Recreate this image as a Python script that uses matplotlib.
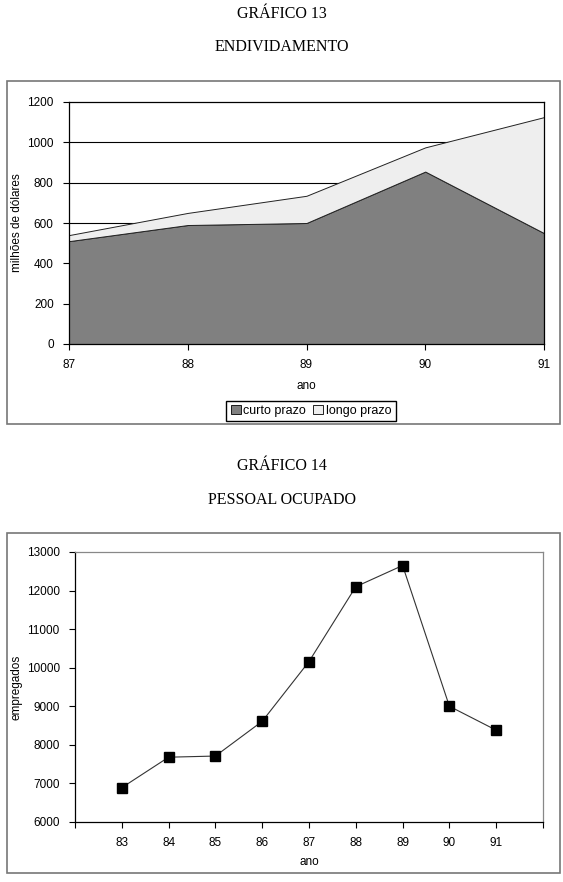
import numpy as np
import matplotlib
matplotlib.use("Agg")
import matplotlib.pyplot as plt
from matplotlib.patches import Rectangle, Patch

# ── Data ──────────────────────────────────────────────────────────────────────
anos_div   = [87, 88, 89, 90, 91]
curto      = [510, 590, 600, 855, 550]
longo      = [30, 60, 135, 120, 575]

anos_pes   = [83, 84, 85, 86, 87, 88, 89, 90, 91]
empregados = [6890, 7680, 7710, 8610, 10160, 12100, 12650, 9000, 8380]

W, H = 563, 882
SANS  = "Liberation Sans"
SERIF = "Liberation Serif"
FS = 8.5

fig = plt.figure(figsize=(W / 100, H / 100), dpi=100)

def ax_px(x0, y0, x1, y1):
    return fig.add_axes([x0 / W, 1 - y1 / H, (x1 - x0) / W, (y1 - y0) / H])

def frame_px(x0, y0, x1, y1):
    fig.add_artist(Rectangle((x0 / W, 1 - y1 / H), (x1 - x0) / W, (y1 - y0) / H,
                             transform=fig.transFigure, fill=False,
                             edgecolor="#777777", lw=1.2))

def title_px(y, s):
    fig.text(0.5, 1 - y / H, s, ha="center", va="center",
             family=SERIF, fontsize=11.5)

# ── Gráfico 13 ───────────────────────────────────────────────────────────────
title_px(14, "GRÁFICO 13")
title_px(47, "ENDIVIDAMENTO")
frame_px(7, 81, 560, 424)

ax = ax_px(69, 102, 544, 344)
for g in [600, 800, 1000]:
    ax.axhline(g, color="black", lw=0.8, zorder=0)
ax.stackplot(anos_div, curto, longo, colors=["#808080", "#eeeeee"],
             edgecolor="#222222", linewidth=0.7, zorder=2)
ax.set_xlim(87, 91)
ax.set_ylim(0, 1200)
ax.set_xticks(anos_div)
ax.set_yticks(range(0, 1201, 200))
for s in ax.spines.values():
    s.set_color("black"); s.set_linewidth(0.9)
ax.tick_params(labelsize=FS, length=4, width=0.8, direction="out", pad=7)
for lbl in ax.get_xticklabels() + ax.get_yticklabels():
    lbl.set_family(SANS)
ax.set_xlabel("ano", family=SANS, fontsize=FS, labelpad=6)
ax.set_ylabel("milhões de dólares", family=SANS, fontsize=FS, labelpad=3)
handles = [Patch(facecolor="#808080", edgecolor="black", lw=0.6, label="curto prazo"),
           Patch(facecolor="#eeeeee", edgecolor="black", lw=0.6, label="longo prazo")]
fig.legend(handles=handles, loc="center", bbox_to_anchor=(311 / W, 1 - 411 / H),
           ncol=2, fancybox=False, edgecolor="black", framealpha=1,
           prop={"family": SANS, "size": 9}, handlelength=0.8,
           handleheight=0.8, handletextpad=0.2, columnspacing=0.6,
           borderpad=0.35)

# ── Gráfico 14 ───────────────────────────────────────────────────────────────
title_px(466, "GRÁFICO 14")
title_px(500, "PESSOAL OCUPADO")
frame_px(7, 533, 560, 873)

ax2 = ax_px(75, 552, 543, 822)
ax2.plot(anos_pes, empregados, color="#333333", lw=0.8,
         marker="s", ms=7, mfc="black", mec="black")
ax2.set_xlim(82, 92)
ax2.set_ylim(6000, 13000)
ax2.set_xticks(range(82, 93))
ax2.set_xticklabels([""] + [str(a) for a in anos_pes] + [""])
ax2.set_yticks(range(6000, 13001, 1000))
for s in ax2.spines.values():
    s.set_color("#888888"); s.set_linewidth(0.9)
ax2.spines["left"].set_color("black")
ax2.spines["bottom"].set_color("black")
ax2.tick_params(labelsize=FS, length=4, width=0.8, direction="out", pad=7)
for lbl in ax2.get_xticklabels() + ax2.get_yticklabels():
    lbl.set_family(SANS)
ax2.set_xlabel("ano", family=SANS, fontsize=FS, labelpad=5)
ax2.set_ylabel("empregados", family=SANS, fontsize=FS, labelpad=3)

fig.savefig("out.png", dpi=100)
